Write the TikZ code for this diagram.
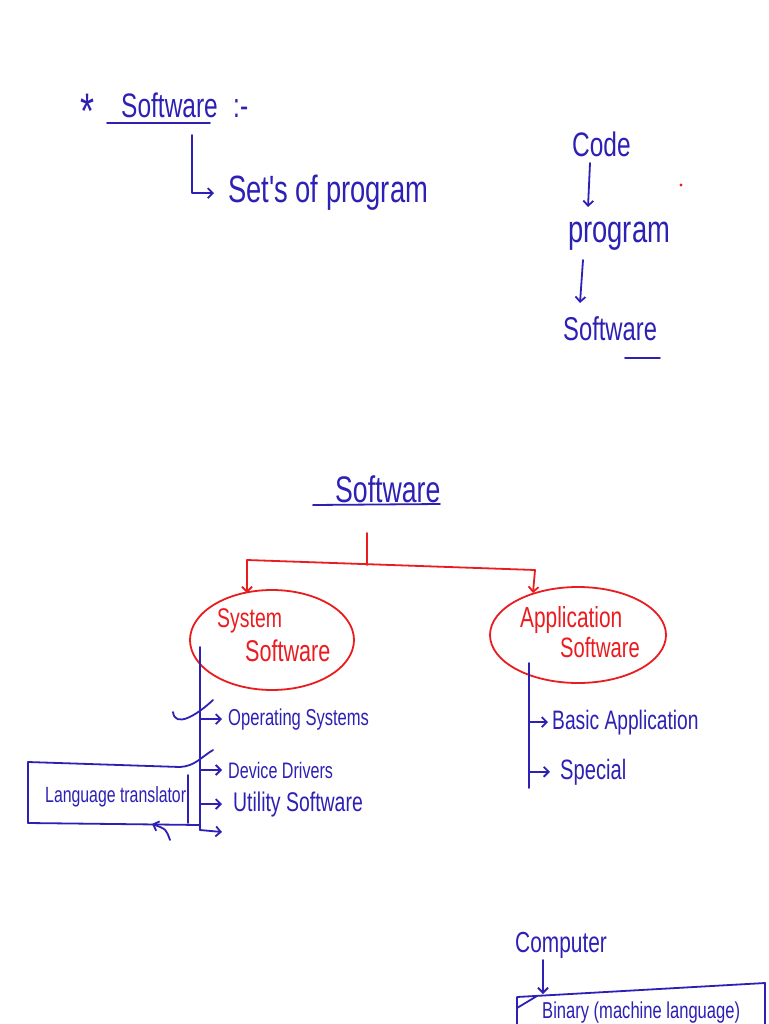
\documentclass[tikz,border=0pt]{standalone}
\usepackage{fontspec}
\newfontfamily\hand[FakeStretch=0.72]{Liberation Sans}
\usetikzlibrary{arrows.meta,shapes.geometric}
\definecolor{inkblue}{RGB}{45,32,180}
\definecolor{inkred}{RGB}{235,28,32}
\newcommand\hsz[1]{\hand\fontsize{#1}{#1}\selectfont}
\begin{document}
\begin{tikzpicture}[x=1pt,y=-1pt,
  bt/.style={text=inkblue, inner sep=0pt, anchor=base west},
  rt/.style={text=inkred, inner sep=0pt, anchor=base west},
  ink/.style={draw=inkblue, line width=1.8pt, line cap=round, line join=round},
  rink/.style={draw=inkred, line width=1.8pt, line cap=round, line join=round},
  arr/.style={-{Straight Barb[length=5pt,width=10pt]}},
  oval/.style={ellipse, draw=inkred, line width=1.8pt, inner sep=0pt}]
\useasboundingbox (0,0) rectangle (768,1024);
\clip (0,0) rectangle (768,1024);
\fill[white] (0,0) rectangle (768,1024);

% ---- top-left definition
\node[bt, font=\hsz{50}] (star) at (80,129) {*};
\node[bt, font=\hsz{34}] (swdef) at (121,118) {Software};
\node[bt, font=\hsz{34}] (colon) at (233,118) {:-};
\coordinate (ul1a) at (107,123); \coordinate (ul1b) at (210,123);
\draw[ink] (ul1a) -- (ul1b);
\node[bt, font=\hsz{38}] (sets) at (228,203) {Set's of program};
\coordinate (a1) at (192,135);
\draw[ink,arr] (a1) |- ([xshift=-14pt]sets.west);

% ---- code -> program -> software
\node[bt, font=\hsz{34}] (code) at (572,157) {Code};
\node[bt, font=\hsz{38}] (prog) at (568,242) {program};
\node[bt, font=\hsz{33}] (swr) at (563,340) {Software};
\coordinate (c1) at (590,163); \coordinate (c2) at (588,207);
\coordinate (c3) at (583,260); \coordinate (c4) at (580,303);
\draw[ink,arr] (c1) -- (c2);
\draw[ink,arr] (c3) -- (c4);
\coordinate (ul2a) at (625,358); \coordinate (ul2b) at (660,358);
\draw[ink] (ul2a) -- (ul2b);
\fill[inkred] (681,185) circle (1.6pt);

% ---- classification tree
\node[bt, font=\hsz{37}] (swm) at (335,502) {Software};
\coordinate (ul3a) at (313,505); \coordinate (ul3b) at (440,504);
\draw[ink] (ul3a) -- (ul3b);
\node[oval, minimum width=164pt, minimum height=100pt] (sys) at (272,640) {};
\node[oval, minimum width=176pt, minimum height=96pt] (app) at (578,635) {};
\coordinate (rTop) at (367,533);
\coordinate (rJ) at (367,565);
\coordinate (rL) at (247,560);
\coordinate (rR) at (535,570);
\coordinate (rLe) at (247,593);
\coordinate (rRe) at (533,593);
\draw[rink] (rTop) -- (rJ);
\draw[rink] (rL) -- (rR);
\draw[rink,arr] (rL) -- (rLe);
\draw[rink,arr] (rR) -- (rRe);
\node[rt, font=\hsz{27}] (sysa) at (217,627) {System};
\node[rt, font=\hsz{30}] (sysb) at (245,661) {Software};
\node[rt, font=\hsz{29}] (appa) at (520,627) {Application};
\node[rt, font=\hsz{28}] (appb) at (560,657) {Software};

% ---- system software branches
\coordinate (sv0) at (200,647);
\coordinate (sv1) at (200,830);
\draw[ink] (sv0) -- (sv1);
\node[bt, font=\hsz{23}] (os) at (228,725) {Operating Systems};
\node[bt, font=\hsz{22.4}] (dd) at (228,778) {Device Drivers};
\node[bt, font=\hsz{27}] (us) at (233,811) {Utility Software};
\draw[ink,arr] (sv0 |- os.west) -- ([xshift=-6pt]os.west);
\draw[ink,arr] (sv0 |- dd.west) -- ([xshift=-6pt]dd.west);
\draw[ink,arr] (sv0 |- us.west) -- ([xshift=-11pt]us.west);
\coordinate (sbe) at (222,832);
\draw[ink,arr] (sv1) -- (sbe);
\draw[ink] (173,712) .. controls (175,728) and (196,716) .. (213,700);
% language translator box
\node[bt, font=\hsz{22}] (lt) at (45,802) {Language translator};
\coordinate (bx0) at (28,762);
\coordinate (bx1) at (180,767);
\coordinate (bx2) at (28,823);
\coordinate (bx3) at (200,825);
\draw[ink] (bx2) -- (bx0) -- (bx1) .. controls (195,766) and (200,758) .. (213,750);
\draw[ink] (bx2) -- (bx3);
\draw[ink] (188,775) -- (188,823);
\coordinate (lta) at (170,840);
\draw[ink,arr] (lta) .. controls (166,829) .. (152,824);

% ---- application software branches
\coordinate (av0) at (529,663);
\coordinate (av1) at (529,788);
\draw[ink] (av0) -- (av1);
\node[bt, font=\hsz{26.7}] (ba) at (552,729) {Basic Application};
\node[bt, font=\hsz{28}] (sp) at (560,779) {Special};
\draw[ink,arr] (av0 |- ba.west) -- ([xshift=-4pt]ba.west);
\draw[ink,arr] (av0 |- sp.west) -- ([xshift=-10pt]sp.west);

% ---- computer -> binary
\node[bt, font=\hsz{29}] (comp) at (515,952) {Computer};
\node[bt, font=\hsz{23}] (bin) at (542,1018) {Binary (machine language)};
\coordinate (cb0) at (517,1040);
\coordinate (cb1) at (517,997);
\coordinate (cb2) at (765,983);
\coordinate (cb3) at (765,1040);
\draw[ink] (cb0) -- (cb1) -- (cb2) -- (cb3);
\draw[ink] (517,1008) -- (537,996);
\coordinate (ca0) at (543,960);
\coordinate (ca1) at (543,994);
\draw[ink,arr] (ca0) -- (ca1);
\end{tikzpicture}
\end{document}
